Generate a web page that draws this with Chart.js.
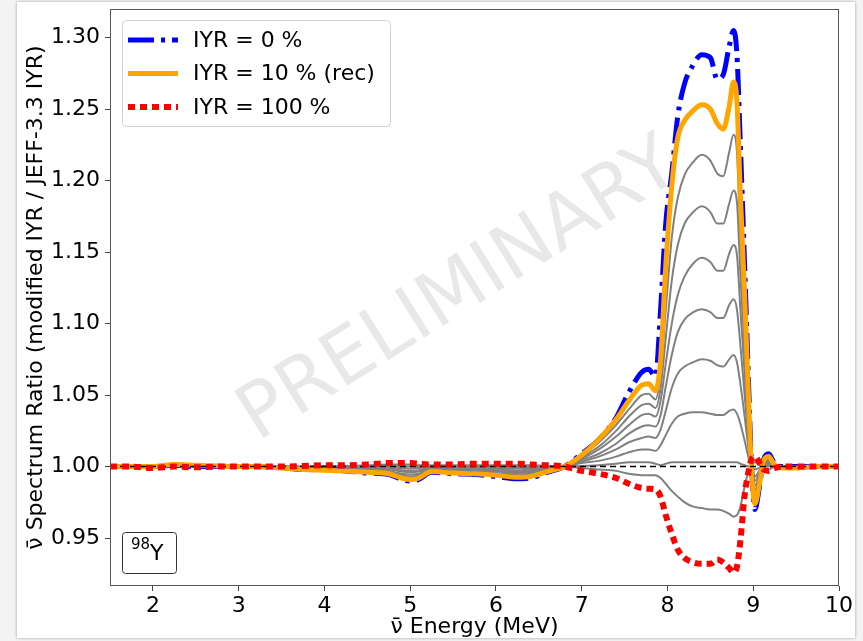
<!DOCTYPE html>
<html>
<head>
<meta charset="utf-8">
<title>98Y spectrum ratio vs IYR</title>
<script src="https://cdn.jsdelivr.net/npm/chart.js"></script>
<style>
    html, body { margin: 0; padding: 0; background: #f3f3f3; overflow: hidden; }
    .panel {
        position: absolute; left: 17px; top: 2px; width: 838px; height: 636px;
        background: #fff; overflow: hidden; box-shadow: 0 0 3px rgba(0,0,0,0.35);
    }
    #chart { position: absolute; left: -17px; top: -2px; }
</style>
</head>
<body>
<div class="panel"><canvas id="chart" width="863" height="641"></canvas></div>
<script>
// antineutrino energy grid (MeV)
const energy = [1.5, 1.75, 2.0, 2.25, 2.5, 2.75, 3.0, 3.25, 3.5, 3.75,
    4.0, 4.25, 4.5, 4.75, 4.9, 5.0, 5.1, 5.25, 5.5, 5.75, 6.0, 6.25, 6.4, 6.6, 6.8,
    7.0, 7.2, 7.4, 7.55, 7.7, 7.78, 7.86,
    7.92, 7.98, 8.05, 8.12, 8.2, 8.3, 8.4, 8.5, 8.58, 8.65, 8.72, 8.77, 8.81, 8.85, 8.9,
    8.95, 8.98, 9.02, 9.07, 9.12, 9.18, 9.25, 9.35, 9.5, 9.75, 10.0];

// ratio for each modified IYR value
const iyr0 = [1.000, 1.000, 1.000, 1.001, 1.000, 1.000, 1.000, 1.000, 0.999, 0.998,
    0.998, 0.997, 0.9955, 0.9945, 0.991, 0.990, 0.991, 0.996, 0.995, 0.9945, 0.993, 0.9915, 0.992, 0.996, 1.000,
    1.009, 1.019, 1.034, 1.052, 1.066, 1.068, 1.063,
    1.110, 1.170, 1.205, 1.245, 1.268, 1.281, 1.288, 1.286, 1.271, 1.274, 1.294, 1.305, 1.288, 1.225, 1.140,
    1.050, 1.000, 0.970, 0.985, 1.005, 1.009, 1.002, 1.000, 1.000, 1.000, 1.000];
const iyr10 = [1.000, 1.000, 1.000, 1.0015, 1.001, 1.0005, 1.000, 1.000, 0.999, 0.998,
    0.9975, 0.997, 0.996, 0.995, 0.992, 0.991, 0.992, 0.9965, 0.9955, 0.995, 0.994, 0.9925, 0.993, 0.9965, 1.000,
    1.008, 1.019, 1.033, 1.046, 1.057, 1.058, 1.053,
    1.075, 1.140, 1.196, 1.230, 1.242, 1.249, 1.253, 1.250, 1.240, 1.236, 1.252, 1.269, 1.255, 1.190, 1.120,
    1.040, 0.998, 0.974, 0.987, 1.004, 1.007, 1.001, 0.999, 0.999, 1.000, 1.000];
const iyr20 = [1.000, 1.000, 1.000, 1.001, 1.001, 1.000, 1.000, 1.000, 0.999, 0.998,
    0.998, 0.9975, 0.9965, 0.996, 0.993, 0.992, 0.993, 0.997, 0.996, 0.9955, 0.9945, 0.9935, 0.994, 0.997, 1.000,
    1.0075, 1.017, 1.029, 1.040, 1.050, 1.051, 1.047,
    1.065, 1.110, 1.160, 1.188, 1.204, 1.213, 1.218, 1.214, 1.205, 1.203, 1.220, 1.232, 1.220, 1.160, 1.100,
    1.030, 0.999, 0.978, 0.988, 1.003, 1.006, 1.001, 1.000, 1.000, 1.000, 1.000];
const iyr30 = [1.000, 1.000, 1.000, 1.001, 1.001, 1.000, 1.000, 1.000, 0.999, 0.9985,
    0.998, 0.998, 0.997, 0.9965, 0.994, 0.993, 0.994, 0.9975, 0.9965, 0.996, 0.9955, 0.9945, 0.995, 0.9975, 1.000,
    1.0065, 1.014, 1.025, 1.035, 1.043, 1.044, 1.041,
    1.055, 1.090, 1.130, 1.155, 1.170, 1.178, 1.182, 1.178, 1.170, 1.170, 1.184, 1.193, 1.185, 1.135, 1.080,
    1.025, 0.999, 0.981, 0.990, 1.003, 1.005, 1.001, 1.000, 1.000, 1.000, 1.000];
const iyr40 = [1.000, 1.000, 1.000, 1.001, 1.000, 1.000, 1.000, 1.000, 0.9995, 0.9985,
    0.9985, 0.998, 0.9975, 0.997, 0.995, 0.9945, 0.995, 0.998, 0.997, 0.997, 0.9965, 0.9955, 0.996, 0.998, 1.000,
    1.0055, 1.012, 1.021, 1.029, 1.036, 1.037, 1.035,
    1.046, 1.072, 1.100, 1.120, 1.133, 1.142, 1.146, 1.143, 1.137, 1.137, 1.149, 1.155, 1.148, 1.110, 1.065,
    1.020, 0.999, 0.984, 0.992, 1.002, 1.004, 1.001, 1.000, 1.000, 1.000, 1.000];
const iyr50 = [1.000, 1.000, 1.000, 1.001, 1.000, 1.000, 1.000, 1.000, 0.9995, 0.999,
    0.999, 0.9985, 0.998, 0.998, 0.9965, 0.996, 0.9965, 0.9985, 0.998, 0.9975, 0.997, 0.9965, 0.997, 0.9985, 1.000,
    1.0045, 1.009, 1.016, 1.023, 1.028, 1.029, 1.028,
    1.036, 1.056, 1.078, 1.094, 1.103, 1.108, 1.110, 1.108, 1.104, 1.104, 1.113, 1.117, 1.110, 1.085, 1.050,
    1.015, 0.999, 0.987, 0.993, 1.002, 1.003, 1.000, 1.000, 1.000, 1.000, 1.000];
const iyr60 = [1.000, 1.000, 1.000, 1.0005, 1.000, 1.000, 1.000, 1.000, 0.9995, 0.9995,
    0.9995, 0.999, 0.999, 0.999, 0.9975, 0.997, 0.9975, 0.999, 0.9985, 0.9985, 0.998, 0.9975, 0.998, 0.999, 1.000,
    1.0035, 1.007, 1.012, 1.017, 1.020, 1.021, 1.020,
    1.026, 1.039, 1.055, 1.065, 1.070, 1.073, 1.075, 1.074, 1.071, 1.070, 1.075, 1.078, 1.073, 1.058, 1.035,
    1.010, 0.999, 0.990, 0.995, 1.001, 1.002, 1.000, 1.000, 1.000, 1.000, 1.000];
const iyr70 = [1.000, 1.000, 0.9995, 1.0005, 1.000, 1.000, 1.000, 1.000, 1.000, 0.9995,
    0.9995, 0.9995, 0.9995, 1.000, 0.999, 0.9985, 0.999, 0.9995, 0.9995, 0.9995, 0.999, 0.999, 0.999, 0.9995, 1.000,
    1.0025, 1.004, 1.007, 1.010, 1.012, 1.012, 1.011,
    1.015, 1.022, 1.030, 1.035, 1.037, 1.038, 1.038, 1.037, 1.036, 1.036, 1.039, 1.040, 1.037, 1.030, 1.018,
    1.005, 0.999, 0.993, 0.997, 1.001, 1.001, 1.000, 1.000, 1.000, 1.000, 1.000];
const iyr80 = [1.000, 1.000, 0.9995, 1.000, 1.000, 1.000, 1.000, 1.000, 1.000, 1.000,
    1.000, 1.000, 1.000, 1.001, 1.000, 1.000, 1.000, 1.000, 1.000, 1.0005, 1.0005, 1.000, 1.000, 1.000, 1.000,
    1.0005, 1.001, 1.002, 1.003, 1.003, 1.003, 1.002,
    1.001, 1.002, 1.003, 1.003, 1.003, 1.003, 1.003, 1.003, 1.003, 1.003, 1.003, 1.003, 1.003, 1.002, 1.001,
    1.000, 1.000, 0.998, 0.999, 1.000, 1.000, 1.000, 1.000, 1.000, 1.000, 1.000];
const iyr90 = [1.000, 1.000, 0.999, 1.000, 1.000, 1.000, 1.000, 1.000, 1.000, 1.000,
    1.0005, 1.0005, 1.001, 1.0015, 1.0015, 1.0015, 1.001, 1.001, 1.001, 1.001, 1.001, 1.001, 1.001, 1.0005, 1.000,
    0.999, 0.998, 0.997, 0.995, 0.994, 0.994, 0.994,
    0.992, 0.988, 0.983, 0.979, 0.975, 0.972, 0.971, 0.970, 0.970, 0.969, 0.967, 0.965, 0.966, 0.972, 0.986,
    0.998, 1.001, 1.003, 1.001, 0.999, 0.998, 1.000, 1.000, 1.000, 1.000, 1.000];
const iyr100 = [1.000, 1.000, 0.999, 1.000, 0.9995, 1.000, 1.000, 1.000, 1.000, 1.0005,
    1.001, 1.001, 1.0015, 1.0025, 1.0025, 1.0025, 1.002, 1.0015, 1.0015, 1.002, 1.002, 1.002, 1.0015, 1.001, 1.000,
    0.997, 0.995, 0.992, 0.988, 0.985, 0.9845, 0.984,
    0.979, 0.966, 0.953, 0.942, 0.936, 0.933, 0.932, 0.932, 0.935, 0.933, 0.929, 0.926, 0.930, 0.948, 0.980,
    0.998, 1.005, 1.007, 1.003, 0.998, 0.997, 0.999, 1.000, 1.000, 1.000, 1.000];

const refEnergy = [1.5, 10.0];
const refRatio = [1.0, 1.0];

const xTicks = [2, 3, 4, 5, 6, 7, 8, 9, 10];
const yTicks = [0.95, 1.00, 1.05, 1.10, 1.15, 1.20, 1.25, 1.30];
const legendLabels = ['IYR = 0 %', 'IYR = 10 % (rec)', 'IYR = 100 %'];
const nuclideMass = '98';
const nuclideSymbol = 'Y';
const watermark = 'PRELIMINARY';

const FONT = '"DejaVu Sans", sans-serif';

function points(xs, ys) {
    return xs.map((x, i) => ({ x: x, y: ys[i] }));
}

const grays = [iyr20, iyr30, iyr40, iyr50, iyr60, iyr70, iyr80, iyr90].map(vals => ({
    data: points(energy, vals),
    borderColor: '#808080',
    borderWidth: 2,
    order: 4
}));

const datasets = grays.concat([
    { label: legendLabels[0], data: points(energy, iyr0), borderColor: '#0000ff', borderWidth: 5,
      borderDash: [26, 7, 4, 7], order: 3, inLegend: true },
    { label: legendLabels[1], data: points(energy, iyr10), borderColor: '#ffa500', borderWidth: 5,
      order: 2, inLegend: true },
    { data: points(refEnergy, refRatio), borderColor: '#000000', borderWidth: 1.5,
      borderDash: [6, 4], order: 1 },
    { label: legendLabels[2], data: points(energy, iyr100), borderColor: '#ff0000', borderWidth: 6,
      borderDash: [7, 5], order: 0, inLegend: true }
]);

const decorations = {
    id: 'decorations',
    beforeDatasetsDraw(chart) {
        const ctx = chart.ctx;
        ctx.save();
        ctx.translate(460, 292);
        ctx.rotate(-32 * Math.PI / 180);
        ctx.font = '76px ' + FONT;
        ctx.fillStyle = 'rgba(0,0,0,0.09)';
        ctx.textAlign = 'center';
        ctx.textBaseline = 'middle';
        ctx.fillText(watermark, 0, 0);
        ctx.restore();
    },
    afterDatasetsDraw(chart) {
        const ctx = chart.ctx;
        const a = chart.chartArea;
        ctx.save();
        // frame
        ctx.strokeStyle = '#555';
        ctx.lineWidth = 1;
        ctx.strokeRect(a.left + 0.5, a.top + 0.5, a.right - a.left - 1, a.bottom - a.top - 1);

        // legend box
        const lx = a.left + 12, ly = a.top + 11;
        ctx.beginPath();
        ctx.roundRect(lx + 0.5, ly + 0.5, 268, 106, 4);
        ctx.fillStyle = 'rgba(255,255,255,0.85)';
        ctx.fill();
        ctx.strokeStyle = '#d0d0d0';
        ctx.stroke();
        const items = chart.data.datasets.filter(d => d.inLegend);
        ctx.font = '22px ' + FONT;
        ctx.textBaseline = 'middle';
        items.forEach((d, i) => {
            const y = ly + 20 + i * 33.5;
            ctx.strokeStyle = d.borderColor;
            ctx.lineWidth = d.borderWidth;
            ctx.setLineDash(d.borderDash || []);
            ctx.beginPath();
            ctx.moveTo(lx + 6, y);
            ctx.lineTo(lx + 56, y);
            ctx.stroke();
            ctx.setLineDash([]);
            ctx.fillStyle = '#000';
            ctx.fillText(d.label, lx + 71, y + 1);
        });

        // nuclide label
        const bx = a.left + 12, by = a.bottom - 54;
        ctx.beginPath();
        ctx.roundRect(bx + 0.5, by + 0.5, 54, 41, 3);
        ctx.fillStyle = '#fff';
        ctx.fill();
        ctx.strokeStyle = '#333';
        ctx.lineWidth = 1;
        ctx.stroke();
        ctx.fillStyle = '#000';
        ctx.textBaseline = 'alphabetic';
        ctx.font = '15px ' + FONT;
        ctx.fillText(nuclideMass, bx + 9, by + 17);
        ctx.font = '22px ' + FONT;
        ctx.fillText(nuclideSymbol, bx + 28, by + 28);
        ctx.restore();
    }
};

new Chart(document.getElementById('chart').getContext('2d'), {
    type: 'line',
    data: { datasets: datasets },
    options: {
        responsive: false,
        animation: false,
        layout: { padding: { left: 20, right: 24, top: 9, bottom: 0 } },
        elements: {
            point: { radius: 0 },
            line: { cubicInterpolationMode: 'monotone', fill: false, borderCapStyle: 'butt' }
        },
        plugins: { legend: { display: false }, tooltip: { enabled: false } },
        scales: {
            x: {
                type: 'linear', min: 1.5, max: 10,
                afterBuildTicks: s => { s.ticks = xTicks.map(v => ({ value: v })); },
                afterFit: s => { s.height = 55; s.paddingLeft = 0; s.paddingRight = 0; },
                border: { display: false },
                grid: { drawOnChartArea: false, drawTicks: true, tickLength: 5, tickColor: '#444' },
                ticks: { color: '#000', padding: 2, maxRotation: 0, font: { family: FONT, size: 22 },
                         callback: v => String(v) },
                title: { display: true, text: 'ν\u0304 Energy (MeV)', color: '#000', padding: { top: 0, bottom: 1 },
                         font: { family: FONT, size: 22 } }
            },
            y: {
                type: 'linear', min: 0.9165, max: 1.320,
                afterBuildTicks: s => { s.ticks = yTicks.map(v => ({ value: v })); },
                afterFit: s => { s.width = 90; s.paddingTop = 0; s.paddingBottom = 0; },
                border: { display: false },
                grid: { drawOnChartArea: false, drawTicks: true, tickLength: 5, tickColor: '#444' },
                ticks: { color: '#000', padding: 5, font: { family: FONT, size: 22 },
                         callback: v => v.toFixed(2) },
                title: { display: true, text: 'ν\u0304 Spectrum Ratio (modified IYR / JEFF-3.3 IYR)', color: '#000',
                         padding: { top: 3, bottom: 0 }, font: { family: FONT, size: 22 } }
            }
        }
    },
    plugins: [decorations]
});
</script>
</body>
</html>
